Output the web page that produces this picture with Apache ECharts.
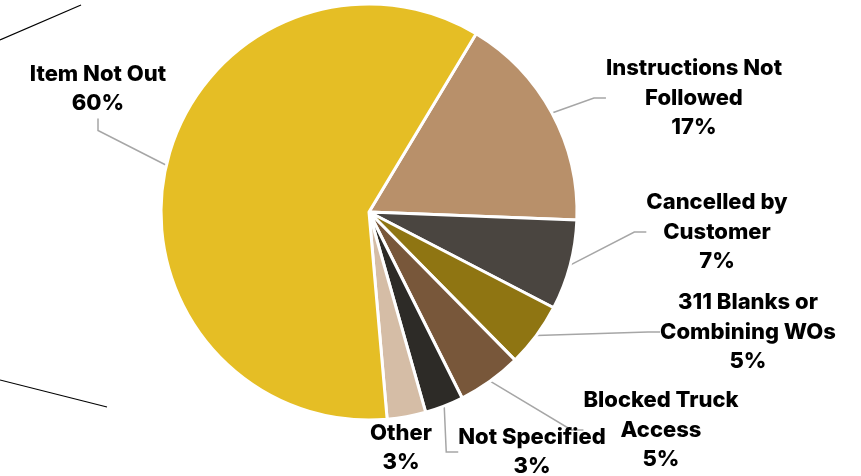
<!DOCTYPE html>
<html>
<head>
<meta charset="utf-8">
<script src="https://cdn.jsdelivr.net/npm/echarts@6/dist/echarts.min.js"></script>
<style>
  html, body { margin: 0; padding: 0; background: #fff; }
  #chart { width: 861px; height: 476px; }
</style>
</head>
<body>
<div id="chart"></div>
<script>
// categories in clockwise order, starting after "Item Not Out"
var categories = ['Instructions Not Followed', 'Cancelled by Customer', '311 Blanks or Combining WOs',
                  'Blocked Truck Access', 'Not Specified', 'Other', 'Item Not Out'];
// text as it wraps on the chart
var labelText = ['Instructions Not\nFollowed', 'Cancelled by\nCustomer', '311 Blanks or\nCombining WOs',
                 'Blocked Truck\nAccess', 'Not Specified', 'Other', 'Item Not Out'];
var values = [17, 7, 5, 5, 3, 3, 60];
var colors = ['#B8906A', '#4A4540', '#8F7512', '#78573A', '#2D2B27', '#D5BDA6', '#E5BE25'];

// where each label sits (centre of the text block)
var labelPos = [
    [694, 98], [717, 232], [748, 332], [661, 430], [532, 452], [401, 448], [98, 89]
];

var chart = echarts.init(document.getElementById('chart'));

var pieData = [];
for (var i = 0; i < categories.length; i++) {
    pieData.push({
        name: categories[i],
        value: values[i],
        itemStyle: { color: colors[i] },
        labelLine: { show: i !== 5 }
    });
}

var option = {
    animation: false,
    graphic: [
        { type: 'line', shape: { x1: 0, y1: 40, x2: 81, y2: 5 }, style: { stroke: '#000', lineWidth: 1.2 } },
        { type: 'line', shape: { x1: 0, y1: 380, x2: 107, y2: 407 }, style: { stroke: '#000', lineWidth: 1.2 } }
    ],
    series: [{
        type: 'pie',
        center: [369, 212],
        radius: 208,
        startAngle: 59,
        clockwise: true,
        avoidLabelOverlap: false,
        itemStyle: { borderColor: '#fff', borderWidth: 3 },
        label: {
            show: true,
            position: 'outside',
            formatter: function (p) {
                return labelText[p.dataIndex] + '\n' + Math.round(p.percent) + '%';
            },
            fontFamily: 'Inter',
            fontWeight: 800,
            fontSize: 22,
            lineHeight: 29.5,
            color: '#000',
            align: 'center'
        },
        labelLine: {
            show: true,
            length: 10,
            length2: 12,
            lineStyle: { color: '#A6A6A6', width: 1.5 }
        },
        labelLayout: function (params) {
            var pos = labelPos[params.dataIndex];
            return {
                x: pos[0],
                y: pos[1],
                align: 'center',
                verticalAlign: 'middle'
            };
        },
        data: pieData
    }]
};

chart.setOption(option);
</script>
</body>
</html>
